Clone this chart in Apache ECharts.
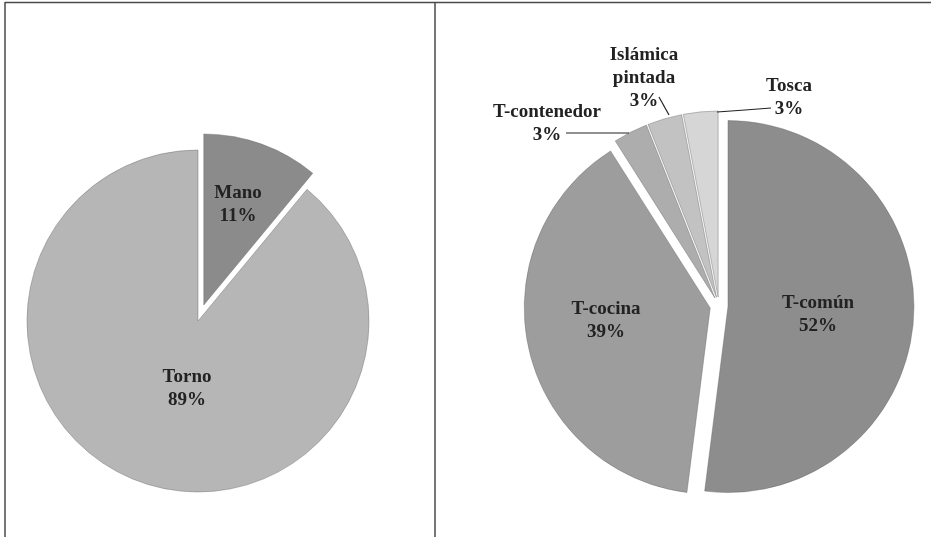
<!DOCTYPE html>
<html>
<head>
<meta charset="utf-8">
<script src="https://cdn.jsdelivr.net/npm/echarts@6/dist/echarts.min.js"></script>
<style>
html,body{margin:0;padding:0;background:#fff;}
#chart{width:931px;height:537px;}
</style>
</head>
<body>
<div id="chart"></div>
<script>
// ---- data ----
const leftCategories = ['Mano', 'Torno'];
const leftValues = [11, 89];
const leftColors = ['#8b8b8b', '#b6b6b6'];
const leftExploded = [true, false];

const rightCategories = ['T-común', 'T-cocina', 'T-contenedor', 'Islámica pintada', 'Tosca'];
const rightValues = [52, 39, 3, 3, 3];
const rightColors = ['#8d8d8d', '#9d9d9d', '#adadad', '#c2c2c2', '#d6d6d6'];

// ---- styles ----
const labelFont = {
  fontFamily: 'Liberation Serif',
  fontWeight: 'bold',
  fontSize: 19,
  lineHeight: 23,
  color: '#222'
};

function fmt(p) {
  return p.name.replace(' ', '\n') + '\n' + p.value + '%';
}

// label anchor positions (text centre)
const leftLabelPos = [[238, 205], [187, 389]];
const rightLabelPos = [[818, 315], [606, 321], [547, 124], [644, 78], [789, 98]];
const rightGuide = {
  2: [[629, 133], [597, 133], [566, 133]],
  3: [[669, 115], [664, 106], [659, 97]],
  4: [[717, 112], [745, 110], [771, 108]]
};

const LEFT_C = [198, 321], LEFT_R = 171;
const RIGHT_C = [719, 306], RIGHT_R = 186;

function sliceData(cats, vals, colors, sel) {
  return cats.map((n, i) => ({
    name: n,
    value: vals[i],
    selected: sel(i),
    itemStyle: { color: colors[i] },
    select: { itemStyle: { color: colors[i] } }
  }));
}
function labelData(cats, vals) {
  return cats.map((n, i) => ({ name: n, value: vals[i] }));
}

const baseSlice = {
  type: 'pie',
  startAngle: 90,
  clockwise: true,
  selectedMode: 'multiple',
  emphasis: { disabled: true },
  silent: true,
  itemStyle: { borderColor: 'rgba(100,100,100,0.4)', borderWidth: 1 },
  label: { show: false },
  labelLine: { show: false }
};

const baseLabel = {
  type: 'pie',
  startAngle: 90,
  clockwise: true,
  silent: true,
  avoidLabelOverlap: false,
  emphasis: { disabled: true },
  itemStyle: { color: 'rgba(0,0,0,0)', borderWidth: 0 },
  label: Object.assign({ show: true, position: 'outside', formatter: fmt }, labelFont),
  labelLine: { show: true, length: 10, length2: 10, lineStyle: { color: '#222', width: 1.2 } },
  z: 5
};

const chart = echarts.init(document.getElementById('chart'), null, { renderer: 'canvas' });

chart.setOption({
  animation: false,
  backgroundColor: '#ffffff',
  graphic: [
    { type: 'line', shape: { x1: 5, y1: 2.5, x2: 931, y2: 2.5 }, style: { stroke: '#4a4a4a', lineWidth: 1.5 } },
    { type: 'line', shape: { x1: 5, y1: 2, x2: 5, y2: 537 }, style: { stroke: '#4a4a4a', lineWidth: 1.5 } },
    { type: 'line', shape: { x1: 435, y1: 2, x2: 435, y2: 537 }, style: { stroke: '#4a4a4a', lineWidth: 1.5 } }
  ],
  series: [
    Object.assign({}, baseSlice, {
      center: LEFT_C, radius: [0, LEFT_R], selectedOffset: 17,
      data: sliceData(leftCategories, leftValues, leftColors, i => leftExploded[i])
    }),
    Object.assign({}, baseSlice, {
      center: RIGHT_C, radius: [0, RIGHT_R], selectedOffset: 9,
      data: sliceData(rightCategories, rightValues, rightColors, () => true)
    }),
    Object.assign({}, baseLabel, {
      center: LEFT_C, radius: [0, LEFT_R],
      labelLine: { show: false },
      labelLayout: function (p) {
        const pos = leftLabelPos[p.dataIndex];
        return { x: pos[0], y: pos[1], align: 'center', verticalAlign: 'middle' };
      },
      data: labelData(leftCategories, leftValues)
    }),
    Object.assign({}, baseLabel, {
      center: RIGHT_C, radius: [0, RIGHT_R],
      labelLayout: function (p) {
        const pos = rightLabelPos[p.dataIndex];
        const out = { x: pos[0], y: pos[1], align: 'center', verticalAlign: 'middle' };
        if (rightGuide[p.dataIndex]) out.labelLinePoints = rightGuide[p.dataIndex];
        return out;
      },
      data: labelData(rightCategories, rightValues).map((d, i) => Object.assign(d, {
        labelLine: { show: rightValues[i] < 10 }
      }))
    })
  ]
});
</script>
</body>
</html>
